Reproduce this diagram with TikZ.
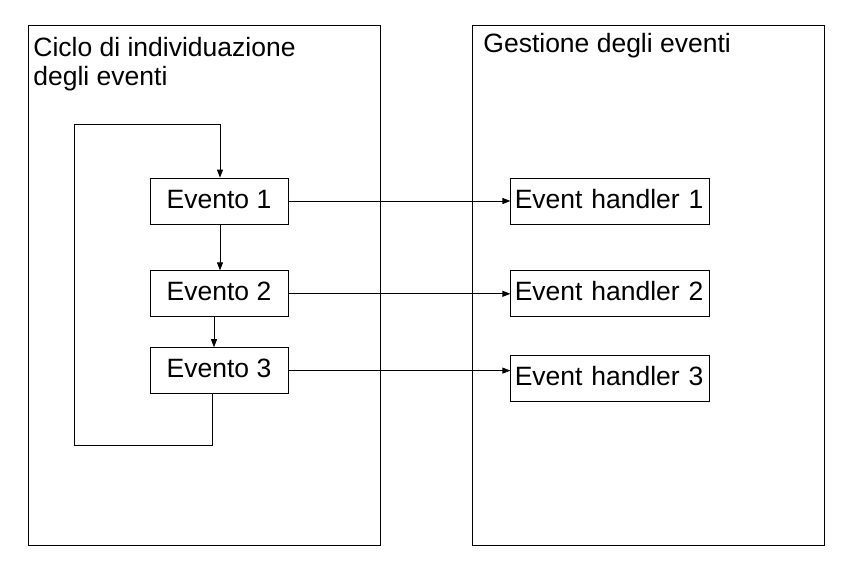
\documentclass[tikz,border=0pt]{standalone}
\usepackage{fontspec}
\setmainfont{Liberation Sans}
\usetikzlibrary{arrows.meta,positioning}

\begin{document}
\begin{tikzpicture}[
    x=1pt, y=-1pt,
    font=\fontsize{26.5}{29}\selectfont,
    line width=0.8pt,
    panel/.style={
        rectangle,
        draw=black,
        line width=0.8pt,
        minimum width=352pt,
        minimum height=520pt,
        inner sep=0pt
    },
    title/.style={
        anchor=north west,
        inner sep=0pt,
        align=left
    },
    eventbox/.style={
        rectangle,
        draw=black,
        line width=0.8pt,
        minimum width=138pt,
        minimum height=46pt,
        text height=19pt,
        text depth=5pt,
        inner sep=0pt
    },
    handlerbox/.style={
        rectangle,
        draw=black,
        line width=0.8pt,
        minimum height=46pt,
        text width=191pt,
        text height=19pt,
        text depth=5pt,
        inner xsep=4pt,
        inner ysep=0pt,
        align=left
    },
    flow/.style={
        -{Triangle[length=8pt,width=6pt]},
        draw=black
    }
]
\useasboundingbox (0,0) rectangle (863,573);

% -------------------- Panels ---------------------------------
\node[panel] (loopPanel) at (204,285) {};
\node[panel] (handlePanel) at (648,285) {};

\node[title] (loopTitle) at (33,37) {Ciclo di individuazione\\degli eventi};
\node[title] (handleTitle) at (483,33) {Gestione degli eventi};

% -------------------- Events ---------------------------------
\node[eventbox] (ev1) at (219,201) {Evento 1};
\node[eventbox, below=46pt of ev1] (ev2) {Evento 2};
\node[eventbox, below=30pt of ev2] (ev3) {Evento 3};

% -------------------- Handlers -------------------------------
\node[handlerbox, right=222pt of ev1] (hd1) {Event handler 1};
\node[handlerbox, right=222pt of ev2] (hd2) {Event handler 2};
\node[handlerbox, below=38pt of hd2] (hd3) {Event handler 3};

% -------------------- Flows ----------------------------------
\coordinate (loopBL) at (74,445);
\coordinate (loopTL) at (74,124);

\draw[flow] ([xshift=-7pt]ev3.south) |- (loopBL) -- (loopTL) -| ([xshift=1pt]ev1.north);
\draw[flow] ([xshift=1pt]ev1.south) -- ([xshift=1pt]ev2.north);
\draw[flow] ([xshift=-5pt]ev2.south) -- ([xshift=-5pt]ev3.north);

\draw[flow] (ev1.east) -- (hd1.west);
\draw[flow] (ev2.east) -- (hd2.west);
\draw[flow] (ev3.east) -- (ev3.east -| hd3.west);

\end{tikzpicture}
\end{document}
